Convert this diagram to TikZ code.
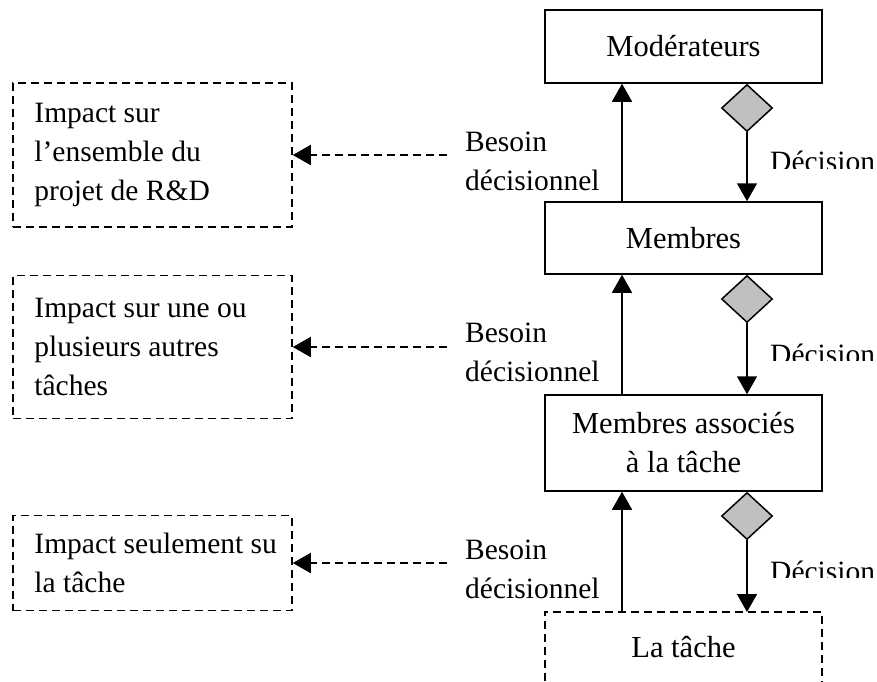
\documentclass[tikz,border=0pt]{standalone}
\usepackage{fontspec}
\setmainfont{Liberation Serif}
\usetikzlibrary{arrows.meta,shapes.geometric}
\definecolor{diagray}{RGB}{192,192,192}
\begin{document}
\begin{tikzpicture}[x=1pt,y=-1pt,
  txt/.style={font=\fontsize{29.5}{39}\selectfont, inner sep=0pt},
  solidbox/.style={draw, line width=1.5pt, minimum width=277pt, inner sep=0pt, align=center, font=\fontsize{30.5}{39}\selectfont},
  impactbox/.style={draw, line width=1.5pt, dash pattern=on 8pt off 5pt, minimum width=279pt, inner sep=0pt},
  dia/.style={shape=diamond, draw, fill=diagray, line width=1.5pt, minimum width=51pt, minimum height=47pt, inner sep=0pt},
  solidarr/.style={line width=1.5pt, -{Triangle[length=18pt,width=20pt]}},
  dasharr/.style={line width=1.6pt, dash pattern=on 8pt off 5pt, -{Triangle[length=18pt,width=20pt]}},
  dashline/.style={line width=1.5pt, dash pattern=on 8pt off 5pt},
]
\useasboundingbox (0,0) rectangle (877,681);
\coordinate (xl) at (622,0);
\coordinate (xr) at (747,0);

% right column
\node[solidbox, minimum height=73pt] (mod) at (683.5,46.5) {Modérateurs};
\node[solidbox, minimum height=72pt] (mem) at (683.5,238) {Membres};
\node[solidbox, minimum height=96pt] (mas) at (683.5,443) {Membres associés\\à la tâche};
\node[txt, font=\fontsize{30.5}{39}\selectfont, minimum width=277pt, minimum height=69pt, anchor=north] (tache) at (683.5,612) {La tâche};
\draw[dashline] (tache.south west) -- (tache.north west) -- (tache.north east) -- (tache.south east);

% diamonds
\node[dia, anchor=north] (d1) at (mod.south -| xr) {};
\node[dia, anchor=north] (d2) at (mem.south -| xr) {};
\node[dia, anchor=north] (d3) at (mas.south -| xr) {};

% arrows
\draw[solidarr] (mem.north -| xl) -- (mod.south -| xl);
\draw[solidarr] (mas.north -| xl) -- (mem.south -| xl);
\draw[solidarr] (tache.north -| xl) -- (mas.south -| xl);
\draw[solidarr] (d1.south) -- (mem.north -| d1.south);
\draw[solidarr] (d2.south) -- (mas.north -| d2.south);
\draw[solidarr] (d3.south) -- (tache.north -| d3.south);

% labels Besoin
\node[txt, align=left, anchor=north west] (bes1) at (465,132) {Besoin\\décisionnel};
\node[txt, align=left, anchor=north west] (bes2) at (465,323) {Besoin\\décisionnel};
\node[txt, align=left, anchor=north west] (bes3) at (465,540) {Besoin\\décisionnel};

% labels Decision (clipped)
\begin{scope}
\clip (760,140) rectangle (877,168.5);
\node[txt, anchor=base west] (dec1) at (770,171.5) {Décision};
\end{scope}
\begin{scope}
\clip (760,330) rectangle (877,360);
\node[txt, anchor=base west] (dec2) at (770,364) {Décision};
\end{scope}
\begin{scope}
\clip (760,545) rectangle (877,577);
\node[txt, anchor=base west] (dec3) at (770,581) {Décision};
\end{scope}

% left boxes
\node[impactbox, minimum height=144pt] (b1) at (152.5,155) {};
\node[impactbox, minimum height=143pt] (b2) at (152.5,347) {};
\node[impactbox, minimum height=95pt] (b3) at (152.5,563) {};
\node[txt, align=left, anchor=west] (t1) at ([xshift=22pt]b1.west) {Impact sur\\l’ensemble du\\projet de R\&D};
\node[txt, align=left, anchor=west] (t2) at ([xshift=22pt]b2.west) {Impact sur une ou\\plusieurs autres\\tâches};
\node[txt, align=left, anchor=west] (t3) at ([xshift=22pt]b3.west) {Impact seulement su\\la tâche};

% dashed arrows
\coordinate (s1) at (447,155);
\coordinate (s2) at (447,347);
\coordinate (s3) at (447,563);
\draw[dasharr] (s1) -- (b1.east);
\draw[dasharr] (s2) -- (b2.east);
\draw[dasharr] (s3) -- (b3.east);
\end{tikzpicture}
\end{document}
